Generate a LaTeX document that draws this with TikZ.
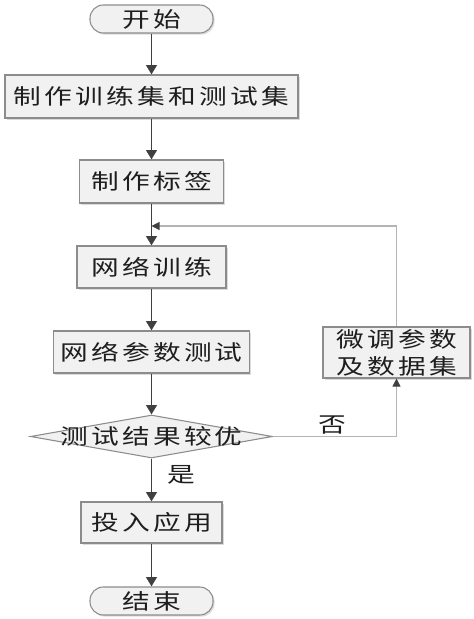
\documentclass[tikz,border=0pt]{standalone}
\usepackage{fontspec}
\newfontfamily\cjk[FakeStretch=1.3,LetterSpace=15]{Noto Sans CJK SC}
\usetikzlibrary{shapes.geometric,shadows,arrows.meta}
\definecolor{boxfill}{HTML}{F1F1F1}
\definecolor{boxline}{HTML}{8C8C8C}
\definecolor{mainline}{HTML}{404040}
\definecolor{loopline}{HTML}{B4B4B4}
\definecolor{txt}{HTML}{1E1E1E}
\tikzset{
  base/.style={draw=boxline,fill=boxfill,line width=0.8pt,text=txt,inner sep=0pt,
    font=\cjk\fontsize{16}{20}\selectfont,
    drop shadow={shadow xshift=1.2pt,shadow yshift=-1.2pt,fill=gray!35,opacity=0.8}},
  procbox/.style={base,rectangle},
  term/.style={base,rectangle,rounded corners=10pt},
  dec/.style={draw=boxline,fill=boxfill,line width=0.8pt,diamond,inner sep=0pt},
  flow/.style={draw=mainline,line width=1.3pt,-{Triangle[length=7pt,width=8pt]}},
  loop/.style={draw=loopline,line width=0.8pt},
  looparrow/.style={loop,-{Triangle[length=6pt,width=6pt,fill=mainline,color=mainline]}},
  lbl/.style={text=txt,font=\cjk\fontsize{16}{20}\selectfont,inner sep=0pt}
}
\begin{document}
\begin{tikzpicture}[x=0.75pt,y=-0.75pt]
\path[use as bounding box] (0,0) rectangle (474,619);
\node[term,minimum width=123*0.75pt,minimum height=28*0.75pt] (start) at (151.5,19) {开始};
\node[procbox,minimum width=293*0.75pt,minimum height=43*0.75pt] (b1) at (151.5,96.5) {制作训练集和测试集};
\node[procbox,minimum width=144*0.75pt,minimum height=43*0.75pt] (b2) at (151.5,181.5) {制作标签};
\node[procbox,minimum width=149*0.75pt,minimum height=42*0.75pt] (b3) at (151.5,267) {网络训练};
\node[procbox,minimum width=196*0.75pt,minimum height=42*0.75pt] (b4) at (151.5,352) {网络参数测试};
\node[dec,minimum width=242*0.75pt,minimum height=43*0.75pt] (d) at (151.5,436.5) {};
\node[lbl] (dt) at (d.center) {测试结果较优};
\node[procbox,minimum width=147*0.75pt,minimum height=51*0.75pt,align=center,
  font=\cjk\fontsize{16}{20.25}\selectfont] (b5) at (396.5,352.5) {微调参数\\及数据集};
\node[procbox,minimum width=141*0.75pt,minimum height=41*0.75pt] (b6) at (151.5,522.5) {投入应用};
\node[term,minimum width=123*0.75pt,minimum height=28*0.75pt] (end) at (151.5,601) {结束};
\coordinate (c1) at (396.5,436.5);
\coordinate (c2) at (396.5,226);
\coordinate (j) at (151.5,226);
\node[lbl] (no) at (332,425) {否};
\node[lbl] (yes) at (181,475) {是};
\draw[flow] (start) -- (b1);
\draw[flow] (b1) -- (b2);
\draw[flow] (b2) -- (b3);
\draw[flow] (b3) -- (b4);
\draw[flow] (b4) -- (d);
\draw[flow] (d) -- (b6);
\draw[flow] (b6) -- (end);
\draw[looparrow] (d.east) -- (c1) -- (b5.south);
\draw[looparrow] (b5.north) -- (c2) -- (j);
\end{tikzpicture}
\end{document}
